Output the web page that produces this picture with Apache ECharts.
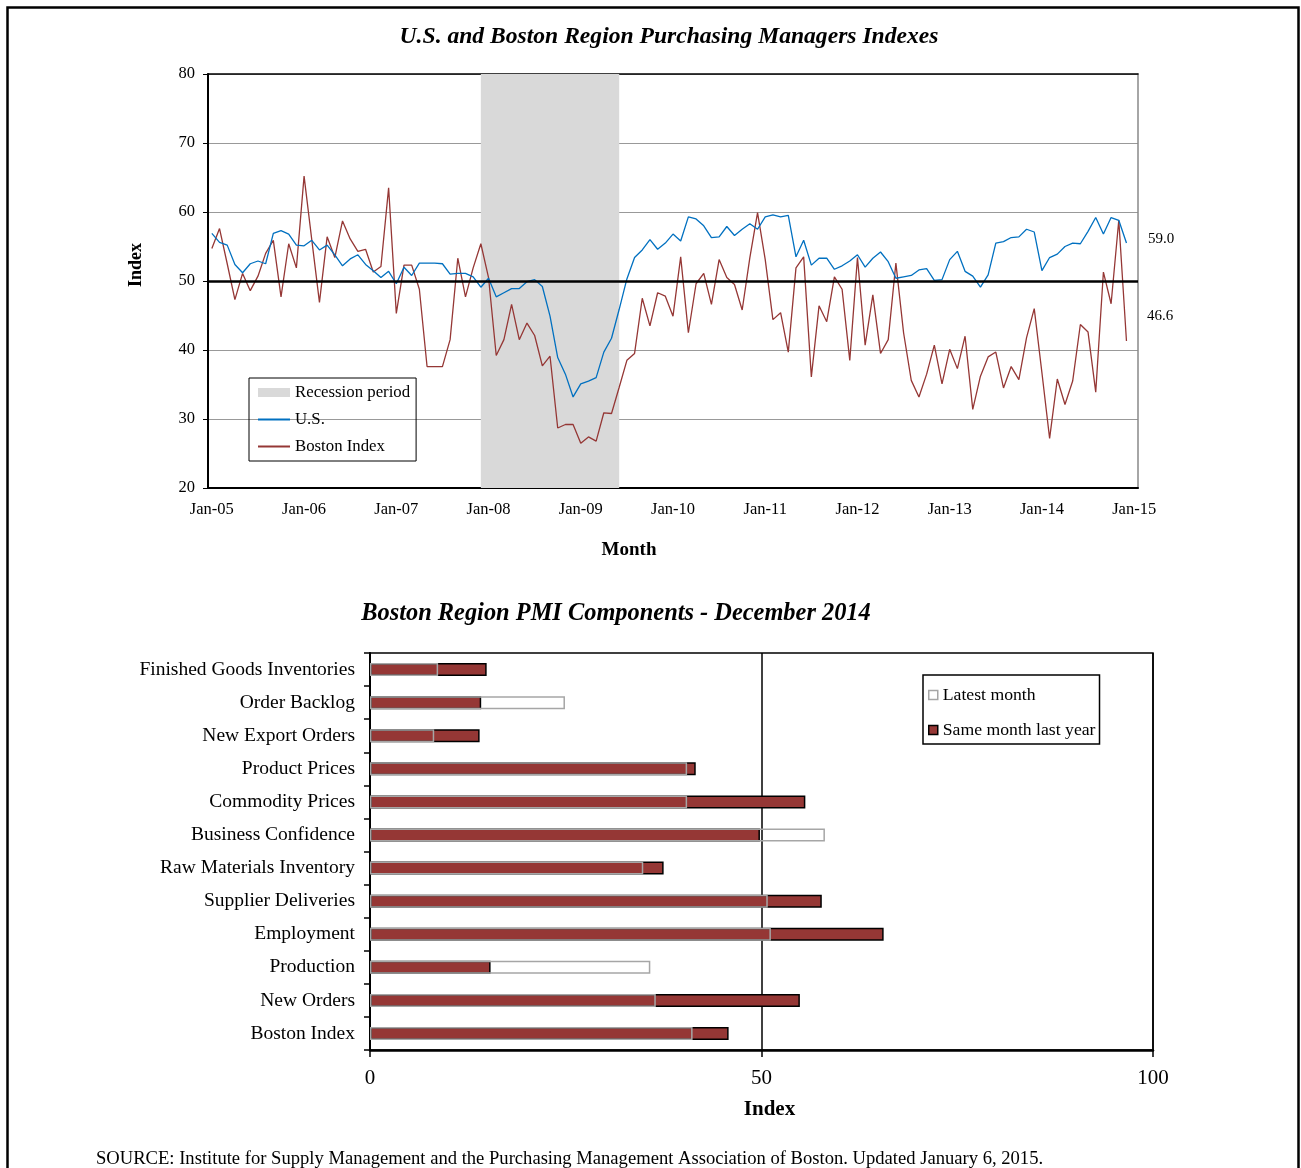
<!DOCTYPE html>
<html>
<head>
<meta charset="utf-8">
<script src="https://cdn.jsdelivr.net/npm/echarts@6/dist/echarts.min.js"></script>
<style>
html,body{margin:0;padding:0;background:#fff;}
#chart{width:1301px;height:1168px;}
</style>
</head>
<body>
<div id="chart"></div>
<script>
// ---------- Top chart data ----------
const years = ['05','06','07','08','09','10','11','12','13','14','15'];
const monthAbbr = ['Jan','Feb','Mar','Apr','May','Jun','Jul','Aug','Sep','Oct','Nov','Dec'];
const monthCategories = [];
years.forEach(function (y, yi) {
  monthAbbr.forEach(function (m, mi) {
    if (yi < years.length - 1 || mi === 0) monthCategories.push(m + '-' + y);
  });
});

const usIndex = [
  56.9, 55.6, 55.2, 52.4, 51.2, 52.5, 52.9, 52.5, 56.9, 57.3, 56.8, 55.2,
  55.1, 55.9, 54.5, 55.2, 53.8, 52.2, 53.2, 53.8, 52.4, 51.5, 50.5, 51.4,
  49.6, 52.0, 50.8, 52.6, 52.6, 52.6, 52.5, 51.0, 51.1, 51.1, 50.6, 49.1,
  50.4, 47.7, 48.3, 48.9, 48.9, 49.9, 50.2, 49.2, 44.9, 38.9, 36.5, 33.2,
  35.1, 35.5, 36.0, 39.7, 41.7, 45.9, 50.3, 53.4, 54.5, 56.0, 54.6, 55.5,
  56.8, 55.8, 59.3, 59.0, 58.0, 56.3, 56.4, 57.9, 56.6, 57.5, 58.3, 57.5,
  59.3, 59.6, 59.3, 59.5, 53.5, 55.9, 52.3, 53.3, 53.3, 51.7, 52.2, 52.9,
  53.8, 52.0, 53.3, 54.2, 52.8, 50.4, 50.6, 50.8, 51.6, 51.8, 50.1, 50.2,
  53.1, 54.3, 51.4, 50.7, 49.1, 50.9, 55.5, 55.7, 56.3, 56.4, 57.5, 57.1,
  51.5, 53.4, 53.9, 55.0, 55.5, 55.4, 57.2, 59.2, 56.8, 59.2, 58.8, 55.5
];

const bostonIndex = [
  54.7, 57.6, 52.5, 47.3, 51.1, 48.6, 50.7, 54.0, 55.9, 47.7, 55.4, 51.9,
  65.2, 56.0, 46.9, 56.4, 53.4, 58.7, 56.1, 54.3, 54.6, 51.3, 52.1, 63.5,
  45.3, 52.3, 52.3, 48.8, 37.6, 37.6, 37.6, 41.5, 53.3, 47.7, 51.9, 55.4,
  50.5, 39.2, 41.5, 46.6, 41.5, 43.9, 42.1, 37.7, 39.1, 28.7, 29.2, 29.2,
  26.5, 27.4, 26.8, 30.9, 30.8, 34.6, 38.5, 39.5, 47.5, 43.5, 48.3, 47.8,
  44.9, 53.5, 42.5, 49.6, 51.1, 46.6, 53.1, 50.5, 49.5, 45.8, 53.4, 59.9,
  53.1, 44.4, 45.4, 39.7, 51.9, 53.5, 36.1, 46.4, 44.1, 50.6, 48.8, 38.5,
  53.4, 40.7, 48.0, 39.5, 41.5, 52.6, 42.5, 35.6, 33.2, 36.5, 40.7, 35.1,
  40.1, 37.3, 42.0, 31.4, 36.2, 39.0, 39.7, 34.5, 37.6, 35.7, 41.8, 46.0,
  36.7, 27.2, 35.8, 32.1, 35.5, 43.7, 42.6, 33.9, 51.3, 46.7, 58.8, 41.3
];

const recessionStart = 'Dec-07';
const recessionEnd = 'Jun-09';
const referenceLevel = 50;
const topYTicks = { min: 20, max: 80, interval: 10 };
const sideLabels = ['59.0', '46.6'];

// ---------- Bottom chart data ----------
const components = [
  'Finished Goods Inventories', 'Order Backlog', 'New Export Orders', 'Product Prices',
  'Commodity Prices', 'Business Confidence', 'Raw Materials Inventory', 'Supplier Deliveries',
  'Employment', 'Production', 'New Orders', 'Boston Index'
];
const latestMonth = [8.7, 24.9, 8.2, 40.5, 40.5, 58.1, 34.9, 50.8, 51.2, 35.8, 36.5, 41.2];
const sameMonthLastYear = [14.9, 14.2, 14.0, 41.6, 55.6, 49.8, 37.5, 57.7, 65.6, 15.4, 54.9, 45.8];
const bottomXTicks = { min: 0, max: 100, interval: 50 };

// ---------- Chart ----------
const SERIF = '"Liberation Serif", "Times New Roman", serif';
const chart = echarts.init(document.getElementById('chart'), null, { renderer: 'canvas' });
const everyJan = function (idx) { return idx % 12 === 0; };

const option = {
  backgroundColor: '#fff',
  animation: false,
  textStyle: { fontFamily: SERIF, color: '#000' },
  grid: [
    { left: 208, top: 74, width: 930, height: 414 },
    { left: 370, top: 653, width: 783, height: 397, show: true, borderColor: '#000', borderWidth: 1.5, backgroundColor: 'transparent' }
  ],
  legend: [
    {
      orient: 'vertical', left: 249, top: 378,
      borderColor: '#000', borderWidth: 1, padding: [6, 6, 6, 8],
      itemWidth: 32, itemHeight: 9, itemGap: 10,
      textStyle: { fontFamily: SERIF, fontSize: 16.8, color: '#000', lineHeight: 17 },
      data: [
        { name: 'Recession period', icon: 'rect', itemStyle: { color: '#d9d9d9' } },
        { name: 'U.S.', itemStyle: { opacity: 0 } },
        { name: 'Boston Index', itemStyle: { opacity: 0 } }
      ]
    },
    {
      orient: 'vertical', left: 923, top: 675,
      borderColor: '#000', borderWidth: 1.5, padding: [11, 4, 5, 5],
      itemWidth: 9, itemHeight: 9, itemGap: 17,
      textStyle: { fontFamily: SERIF, fontSize: 17.7, color: '#000', lineHeight: 18 },
      data: [
        { name: 'Latest month', icon: 'rect', itemStyle: { color: '#fff', borderColor: '#a6a6a6', borderWidth: 1.5 } },
        { name: 'Same month last year', icon: 'rect', itemStyle: { color: '#953735', borderColor: '#000', borderWidth: 1.5 } }
      ]
    }
  ],
  xAxis: [
    {
      gridIndex: 0, type: 'category', data: monthCategories, boundaryGap: true,
      name: 'Month', nameLocation: 'middle', nameGap: 53,
      nameTextStyle: { fontFamily: SERIF, fontSize: 19, fontWeight: 'bold', color: '#000', padding: [0, 88, 0, 0] },
      axisLine: { lineStyle: { color: '#000', width: 2 } },
      axisTick: { interval: everyJan, alignWithLabel: true, length: 5, lineStyle: { color: '#000' } },
      axisLabel: { interval: everyJan, fontFamily: SERIF, fontSize: 16.5, color: '#000', margin: 13 },
      splitLine: { show: false }
    },
    {
      gridIndex: 0, type: 'category', data: monthCategories, position: 'top',
      axisLine: { lineStyle: { color: '#000', width: 1.5 } },
      axisTick: { show: false }, axisLabel: { show: false }, splitLine: { show: false }
    },
    {
      gridIndex: 1, type: 'value', min: bottomXTicks.min, max: bottomXTicks.max, interval: bottomXTicks.interval,
      name: 'Index', nameLocation: 'middle', nameGap: 49,
      nameTextStyle: { fontFamily: SERIF, fontSize: 21, fontWeight: 'bold', color: '#000', padding: [0, 0, 0, 16] },
      axisLine: { show: true, lineStyle: { color: '#000', width: 2.5 } },
      axisTick: { show: true, length: 7, lineStyle: { color: '#000', width: 1.5 } },
      axisLabel: { fontFamily: SERIF, fontSize: 21, color: '#000', margin: 18 },
      splitLine: { show: true, lineStyle: { color: '#000', width: 1.5 } }
    }
  ],
  yAxis: [
    {
      gridIndex: 0, type: 'value', min: topYTicks.min, max: topYTicks.max, interval: topYTicks.interval,
      name: 'Index', nameLocation: 'middle', nameGap: 63,
      nameTextStyle: { fontFamily: SERIF, fontSize: 18, fontWeight: 'bold', color: '#000', padding: [0, 0, 0, 32] },
      axisLine: { show: true, lineStyle: { color: '#000', width: 2 } },
      axisTick: { show: true, length: 5, lineStyle: { color: '#000' } },
      axisLabel: { fontFamily: SERIF, fontSize: 16.5, color: '#000', margin: 13 },
      splitLine: { show: true, lineStyle: { color: '#999', width: 1.2 } }
    },
    {
      gridIndex: 0, type: 'value', min: topYTicks.min, max: topYTicks.max, position: 'right',
      axisLine: { show: true, lineStyle: { color: '#888', width: 1.5 } },
      axisTick: { show: false }, axisLabel: { show: false }, splitLine: { show: false }
    },
    {
      gridIndex: 1, type: 'category', data: components, inverse: true,
      axisLine: { lineStyle: { color: '#000', width: 2 } },
      axisTick: { show: true, length: 6, lineStyle: { color: '#000', width: 1.5 } },
      axisLabel: { fontFamily: SERIF, fontSize: 19.5, color: '#000', margin: 15, padding: [4, 0, 0, 0] }
    }
  ],
  series: [
    {
      name: 'Recession period', type: 'line', xAxisIndex: 0, yAxisIndex: 0,
      data: [], itemStyle: { color: '#d9d9d9' }, symbol: 'none', z: 1,
      markArea: {
        silent: true, itemStyle: { color: '#d9d9d9' },
        data: [[{ xAxis: recessionStart }, { xAxis: recessionEnd }]]
      }
    },
    {
      name: 'U.S.', type: 'line', xAxisIndex: 0, yAxisIndex: 0, data: usIndex,
      symbol: 'none', lineStyle: { color: '#0070c0', width: 1.3 }, itemStyle: { color: '#0070c0' }, z: 4,
      markLine: {
        silent: true, symbol: 'none', label: { show: false },
        lineStyle: { color: '#000', width: 2.5, type: 'solid' },
        data: [{ yAxis: referenceLevel }]
      }
    },
    {
      name: 'Boston Index', type: 'line', xAxisIndex: 0, yAxisIndex: 0, data: bostonIndex,
      symbol: 'none', lineStyle: { color: '#953735', width: 1.3 }, itemStyle: { color: '#953735' }, z: 3
    },
    {
      name: 'Same month last year', type: 'bar', xAxisIndex: 2, yAxisIndex: 2, data: sameMonthLastYear,
      barWidth: 13, barGap: '-100%',
      itemStyle: { color: '#953735', borderColor: '#000', borderWidth: 1.5 }
    },
    {
      name: 'Latest month', type: 'bar', xAxisIndex: 2, yAxisIndex: 2, data: latestMonth,
      barWidth: 13, barGap: '-100%',
      itemStyle: { color: 'rgba(255,255,255,0)', borderColor: '#a6a6a6', borderWidth: 1.5 }
    }
  ],
  graphic: [
    { type: 'rect', shape: { x: 7.5, y: 7.5, width: 1291, height: 1250 }, style: { fill: null, stroke: '#000', lineWidth: 2.5 }, silent: true, z: 100 },
    { type: 'text', x: 669, y: 37, style: { text: 'U.S. and Boston Region Purchasing Managers Indexes', font: 'italic bold 23.6px ' + SERIF, fill: '#000', textAlign: 'center', textVerticalAlign: 'middle' } },
    { type: 'text', x: 616, y: 614, style: { text: 'Boston Region PMI Components - December 2014', font: 'italic bold 24.4px ' + SERIF, fill: '#000', textAlign: 'center', textVerticalAlign: 'middle' } },
    { type: 'text', x: 1148, y: 239, style: { text: sideLabels[0], font: '15px ' + SERIF, fill: '#000', textVerticalAlign: 'middle' } },
    { type: 'text', x: 1147, y: 316, style: { text: sideLabels[1], font: '15px ' + SERIF, fill: '#000', textVerticalAlign: 'middle' } },
    { type: 'text', x: 96, y: 1159, style: { text: 'SOURCE: Institute for Supply Management and the Purchasing Management Association of Boston. Updated January 6, 2015.', font: '18.6px ' + SERIF, fill: '#000', textVerticalAlign: 'middle' } }
  ]
};
chart.setOption(option);
</script>
</body>
</html>
